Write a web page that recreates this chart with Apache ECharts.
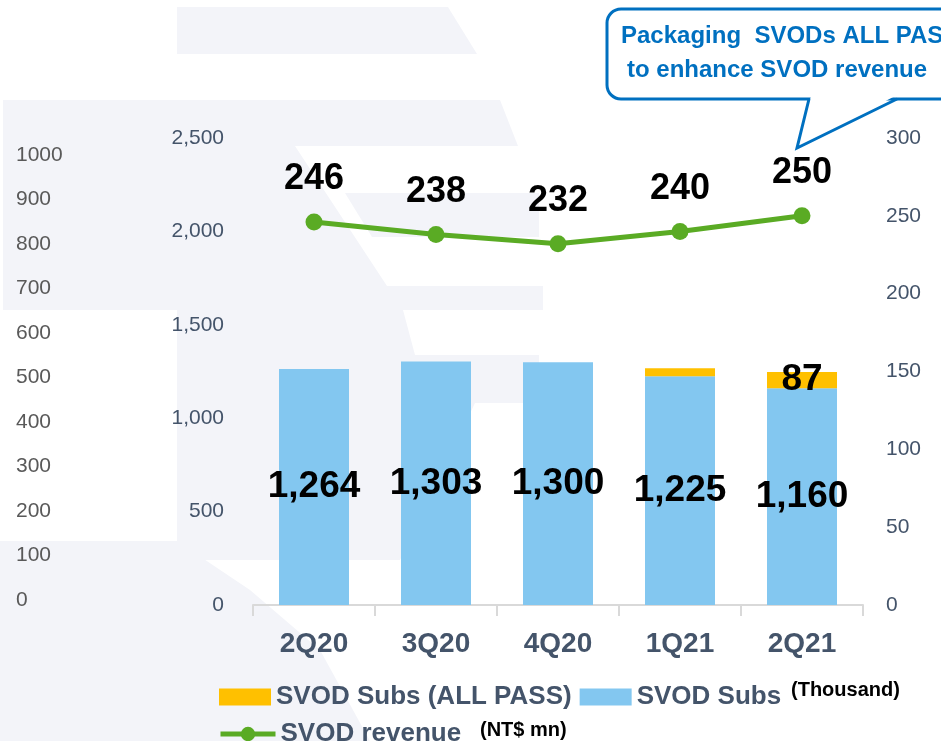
<!DOCTYPE html>
<html>
<head>
<meta charset="utf-8">
<script src="https://cdn.jsdelivr.net/npm/echarts@6/dist/echarts.min.js"></script>
<style>
  html, body { margin: 0; padding: 0; background: #fff; }
  #chart { width: 941px; height: 741px; }
</style>
</head>
<body>
<div id="chart"></div>
<script>
// values
const quarters = ['2Q20', '3Q20', '4Q20', '1Q21', '2Q21'];
const svodSubs = [1264, 1303, 1300, 1225, 1160];      // thousand
const allPassSubs = [0, 0, 0, 43, 87];                // thousand
const svodRevenue = [246, 238, 232, 240, 250];        // NT$ mn
const subsTicks = [0, 500, 1000, 1500, 2000, 2500];
const revenueTicks = [0, 50, 100, 150, 200, 250, 300];
const ghostTicks = [0, 100, 200, 300, 400, 500, 600, 700, 800, 900, 1000];

const FONT = 'Liberation Sans, Arial, sans-serif';
const SLATE = '#44546a';
const WM = '#f3f4f9'; // faint watermark colour

const chart = echarts.init(document.getElementById('chart'), null, { renderer: 'canvas' });

const thousands = v => String(v).replace(/\B(?=(\d{3})+(?!\d))/g, ',');

// faint logo watermark behind the chart (rough shapes)
const watermark = [
  [[177, 7], [448, 7], [477, 54], [177, 54]],
  [[3, 100], [500, 100], [518, 146], [3, 146]],
  [[3, 146], [295, 146], [387, 286], [543, 286], [543, 310], [3, 310]],
  [[345, 193], [539, 193], [539, 237], [372, 237]],
  [[177, 310], [403, 310], [415, 355], [539, 355], [539, 403], [475, 403], [400, 560], [177, 560]],
  [[0, 541], [177, 541], [250, 590], [320, 650], [370, 741], [0, 741]]
].map(pts => ({
  type: 'polygon', z: -10, silent: true,
  shape: { points: pts },
  style: { fill: WM }
}));

chart.setOption({
  animation: false,
  textStyle: { fontFamily: FONT },
  graphic: [
    ...watermark,
    // callout bubble
    {
      type: 'rect', z: 100,
      shape: { x: 607, y: 9, width: 370, height: 90, r: 14 },
      style: { fill: '#fff', stroke: '#0070c0', lineWidth: 3 }
    },
    {
      type: 'polygon', z: 101,
      shape: { points: [[811, 96], [797, 148], [895, 96]] },
      style: { fill: '#fff' }
    },
    {
      type: 'polyline', z: 102,
      shape: { points: [[809, 99], [797, 148], [897, 99]] },
      style: { stroke: '#0070c0', lineWidth: 3, fill: null }
    },
    {
      type: 'text', z: 103, left: 621, top: 24,
      style: { text: 'Packaging  SVODs ALL PASS', fill: '#0070c0', font: 'bold 24px ' + FONT }
    },
    {
      type: 'text', z: 103, left: 627, top: 58,
      style: { text: 'to enhance SVOD revenue', fill: '#0070c0', font: 'bold 24px ' + FONT }
    },
    // units next to the legend
    {
      type: 'text', left: 791, top: 680,
      style: { text: '(Thousand)', fill: '#000', font: 'bold 20px ' + FONT }
    },
    {
      type: 'text', left: 480, top: 720,
      style: { text: '(NT$ mn)', fill: '#000', font: 'bold 20px ' + FONT }
    }
  ],
  legend: [
    {
      left: 214, top: 679,
      data: ['SVOD Subs (ALL PASS)', 'SVOD Subs'],
      itemWidth: 52, itemHeight: 17, itemGap: 8,
      icon: 'rect',
      textStyle: { fontSize: 26, fontWeight: 'bold', color: SLATE }
    },
    {
      left: 213, top: 716,
      data: ['SVOD revenue'],
      itemWidth: 55, itemHeight: 18,
      lineStyle: { width: 5 },
      textStyle: { fontSize: 26, fontWeight: 'bold', color: SLATE }
    }
  ],
  grid: [
    { left: 253, right: 78, top: 138, bottom: 136 },
    { left: 16, width: 10, top: 155, bottom: 141 }
  ],
  xAxis: [
    {
      type: 'category', gridIndex: 0, data: quarters,
      axisLine: { show: true, lineStyle: { color: '#d9d9d9', width: 2 } },
      axisTick: { show: true, length: 11, lineStyle: { color: '#d9d9d9', width: 2 } },
      axisLabel: { fontSize: 28, fontWeight: 'bold', color: SLATE, margin: 25 }
    },
    { type: 'value', gridIndex: 1, show: false }
  ],
  yAxis: [
    {
      type: 'value', gridIndex: 0,
      min: subsTicks[0], max: subsTicks[subsTicks.length - 1],
      interval: subsTicks[1] - subsTicks[0],
      splitLine: { show: false },
      axisLine: { show: false }, axisTick: { show: false },
      axisLabel: { fontSize: 21, color: SLATE, margin: 29, formatter: thousands }
    },
    {
      type: 'value', gridIndex: 0, position: 'right',
      min: revenueTicks[0], max: revenueTicks[revenueTicks.length - 1],
      interval: revenueTicks[1] - revenueTicks[0],
      splitLine: { show: false },
      axisLine: { show: false }, axisTick: { show: false },
      axisLabel: { fontSize: 21, color: SLATE, margin: 23 }
    },
    {
      // leftover axis from the slide, drawn at the far left
      type: 'value', gridIndex: 1,
      min: ghostTicks[0], max: ghostTicks[ghostTicks.length - 1],
      interval: ghostTicks[1] - ghostTicks[0],
      splitLine: { show: false },
      axisLine: { show: false }, axisTick: { show: false },
      axisLabel: { fontSize: 21, color: '#595959', margin: 0, align: 'left', formatter: v => String(v) }
    }
  ],
  series: [
    {
      name: 'SVOD Subs', type: 'bar', stack: 'subs',
      xAxisIndex: 0, yAxisIndex: 0,
      barWidth: 70,
      itemStyle: { color: '#83c7f0' },
      label: {
        show: true, position: 'inside',
        fontSize: 37, fontWeight: 'bold', color: '#000',
        formatter: p => thousands(p.value)
      },
      data: svodSubs
    },
    {
      name: 'SVOD Subs (ALL PASS)', type: 'bar', stack: 'subs',
      xAxisIndex: 0, yAxisIndex: 0,
      barWidth: 70,
      itemStyle: { color: '#ffc000' },
      label: {
        show: true, position: 'inside',
        fontSize: 37, fontWeight: 'bold', color: '#000',
        formatter: p => (p.value > 50 ? String(p.value) : '')
      },
      data: allPassSubs
    },
    {
      name: 'SVOD revenue', type: 'line',
      xAxisIndex: 0, yAxisIndex: 1,
      symbol: 'circle', symbolSize: 17,
      lineStyle: { color: '#5aab24', width: 5 },
      itemStyle: { color: '#5aab24' },
      label: {
        show: true, position: 'top', distance: 16,
        fontSize: 36, fontWeight: 'bold', color: '#000'
      },
      z: 5,
      data: svodRevenue
    }
  ]
});
</script>
</body>
</html>
